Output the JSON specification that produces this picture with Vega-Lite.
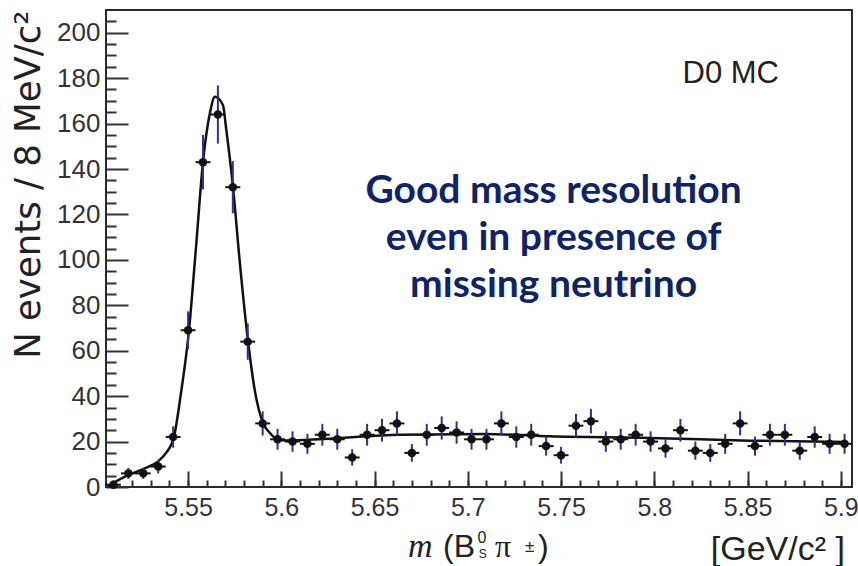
{
  "$schema": "https://vega.github.io/schema/vega-lite/v6.json",
  "width": 746,
  "height": 477,
  "autosize": {"type": "none"},
  "padding": {"left": 106, "top": 10, "right": 6, "bottom": 79},
  "background": "white",
  "config": {
    "view": {"stroke": "#2a2a2a", "strokeWidth": 2},
    "axis": {"domain": false, "grid": false, "labelFont": "Liberation Sans", "labelColor": "#333333", "tickColor": "#333333", "tickWidth": 2, "titleFont": "Liberation Sans", "titleFontWeight": "normal", "titleColor": "#222222"}
  },
  "datasets": {
    "hist": [
      {"m": 5.510, "n": 1, "err": 1.0, "lo": 5.506, "hi": 5.514},
      {"m": 5.518, "n": 6, "err": 2.4, "lo": 5.514, "hi": 5.522},
      {"m": 5.526, "n": 6, "err": 2.4, "lo": 5.522, "hi": 5.530},
      {"m": 5.534, "n": 9, "err": 3.0, "lo": 5.530, "hi": 5.538},
      {"m": 5.542, "n": 22, "err": 4.7, "lo": 5.538, "hi": 5.546},
      {"m": 5.550, "n": 69, "err": 8.3, "lo": 5.546, "hi": 5.554},
      {"m": 5.558, "n": 143, "err": 12.0, "lo": 5.554, "hi": 5.562},
      {"m": 5.566, "n": 164, "err": 12.8, "lo": 5.562, "hi": 5.570},
      {"m": 5.574, "n": 132, "err": 11.5, "lo": 5.570, "hi": 5.578},
      {"m": 5.582, "n": 64, "err": 8.0, "lo": 5.578, "hi": 5.586},
      {"m": 5.590, "n": 28, "err": 5.3, "lo": 5.586, "hi": 5.594},
      {"m": 5.598, "n": 21, "err": 4.6, "lo": 5.594, "hi": 5.602},
      {"m": 5.606, "n": 20, "err": 4.5, "lo": 5.602, "hi": 5.610},
      {"m": 5.614, "n": 19, "err": 4.4, "lo": 5.610, "hi": 5.618},
      {"m": 5.622, "n": 23, "err": 4.8, "lo": 5.618, "hi": 5.626},
      {"m": 5.630, "n": 21, "err": 4.6, "lo": 5.626, "hi": 5.634},
      {"m": 5.638, "n": 13, "err": 3.6, "lo": 5.634, "hi": 5.642},
      {"m": 5.646, "n": 23, "err": 4.8, "lo": 5.642, "hi": 5.650},
      {"m": 5.654, "n": 25, "err": 5.0, "lo": 5.650, "hi": 5.658},
      {"m": 5.662, "n": 28, "err": 5.3, "lo": 5.658, "hi": 5.666},
      {"m": 5.670, "n": 15, "err": 3.9, "lo": 5.666, "hi": 5.674},
      {"m": 5.678, "n": 23, "err": 4.8, "lo": 5.674, "hi": 5.682},
      {"m": 5.686, "n": 26, "err": 5.1, "lo": 5.682, "hi": 5.690},
      {"m": 5.694, "n": 24, "err": 4.9, "lo": 5.690, "hi": 5.698},
      {"m": 5.702, "n": 21, "err": 4.6, "lo": 5.698, "hi": 5.706},
      {"m": 5.710, "n": 21, "err": 4.6, "lo": 5.706, "hi": 5.714},
      {"m": 5.718, "n": 28, "err": 5.3, "lo": 5.714, "hi": 5.722},
      {"m": 5.726, "n": 22, "err": 4.7, "lo": 5.722, "hi": 5.730},
      {"m": 5.734, "n": 23, "err": 4.8, "lo": 5.730, "hi": 5.738},
      {"m": 5.742, "n": 18, "err": 4.2, "lo": 5.738, "hi": 5.746},
      {"m": 5.750, "n": 14, "err": 3.7, "lo": 5.746, "hi": 5.754},
      {"m": 5.758, "n": 27, "err": 5.2, "lo": 5.754, "hi": 5.762},
      {"m": 5.766, "n": 29, "err": 5.4, "lo": 5.762, "hi": 5.770},
      {"m": 5.774, "n": 20, "err": 4.5, "lo": 5.770, "hi": 5.778},
      {"m": 5.782, "n": 21, "err": 4.6, "lo": 5.778, "hi": 5.786},
      {"m": 5.790, "n": 23, "err": 4.8, "lo": 5.786, "hi": 5.794},
      {"m": 5.798, "n": 20, "err": 4.5, "lo": 5.794, "hi": 5.802},
      {"m": 5.806, "n": 17, "err": 4.1, "lo": 5.802, "hi": 5.810},
      {"m": 5.814, "n": 25, "err": 5.0, "lo": 5.810, "hi": 5.818},
      {"m": 5.822, "n": 16, "err": 4.0, "lo": 5.818, "hi": 5.826},
      {"m": 5.830, "n": 15, "err": 3.9, "lo": 5.826, "hi": 5.834},
      {"m": 5.838, "n": 19, "err": 4.4, "lo": 5.834, "hi": 5.842},
      {"m": 5.846, "n": 28, "err": 5.3, "lo": 5.842, "hi": 5.850},
      {"m": 5.854, "n": 18, "err": 4.2, "lo": 5.850, "hi": 5.858},
      {"m": 5.862, "n": 23, "err": 4.8, "lo": 5.858, "hi": 5.866},
      {"m": 5.870, "n": 23, "err": 4.8, "lo": 5.866, "hi": 5.874},
      {"m": 5.878, "n": 16, "err": 4.0, "lo": 5.874, "hi": 5.882},
      {"m": 5.886, "n": 22, "err": 4.7, "lo": 5.882, "hi": 5.890},
      {"m": 5.894, "n": 19, "err": 4.4, "lo": 5.890, "hi": 5.898},
      {"m": 5.902, "n": 19, "err": 4.4, "lo": 5.898, "hi": 5.906}
    ],
    "fit": [
      {"m": 5.507, "n": 0.3},
      {"m": 5.5183, "n": 5.4},
      {"m": 5.5258, "n": 7.9},
      {"m": 5.5339, "n": 11.3},
      {"m": 5.5382, "n": 15.0},
      {"m": 5.5425, "n": 22.3},
      {"m": 5.5462, "n": 41.3},
      {"m": 5.5505, "n": 69.0},
      {"m": 5.5543, "n": 106.0},
      {"m": 5.5580, "n": 143.0},
      {"m": 5.5618, "n": 165.0},
      {"m": 5.5644, "n": 171.8},
      {"m": 5.5687, "n": 168.2},
      {"m": 5.5703, "n": 158.6},
      {"m": 5.5741, "n": 132.0},
      {"m": 5.5778, "n": 98.5},
      {"m": 5.5821, "n": 64.6},
      {"m": 5.5859, "n": 42.0},
      {"m": 5.5902, "n": 28.2},
      {"m": 5.5939, "n": 23.8},
      {"m": 5.5982, "n": 20.8},
      {"m": 5.6025, "n": 20.5},
      {"m": 5.6224, "n": 21.1},
      {"m": 5.6636, "n": 23.0},
      {"m": 5.7098, "n": 23.3},
      {"m": 5.7441, "n": 22.3},
      {"m": 5.7977, "n": 21.6},
      {"m": 5.8513, "n": 20.4},
      {"m": 5.9028, "n": 19.8}
    ],
    "one": [{}]
  },
  "layer": [
    {
      "data": {"name": "fit"},
      "mark": {"type": "line", "interpolate": "monotone", "color": "#111111", "strokeWidth": 2.5},
      "encoding": {
        "x": {"field": "m", "type": "quantitative", "scale": {"domain": [5.506, 5.906], "nice": false, "zero": false},
              "axis": {"orient": "bottom", "values": [5.51,5.52,5.53,5.54,5.55,5.56,5.57,5.58,5.59,5.6,5.61,5.62,5.63,5.64,5.65,5.66,5.67,5.68,5.69,5.7,5.71,5.72,5.73,5.74,5.75,5.76,5.77,5.78,5.79,5.8,5.81,5.82,5.83,5.84,5.85,5.86,5.87,5.88,5.89,5.9], "tickSize": -7, "labels": false, "title": null}},
        "y": {"field": "n", "type": "quantitative", "scale": {"domain": [0, 210], "nice": false, "zero": true},
              "axis": {"orient": "left", "values": [5,10,15,25,30,35,45,50,55,65,70,75,85,90,95,105,110,115,125,130,135,145,150,155,165,170,175,185,190,195,205], "tickSize": -10, "labels": false, "title": null}}
      }
    },
    {
      "data": {"name": "hist"},
      "mark": {"type": "errorbar", "color": "#2e3192", "thickness": 2},
      "encoding": {
        "x": {"field": "m", "type": "quantitative", "scale": {"domain": [5.506, 5.906], "nice": false, "zero": false},
              "axis": {"orient": "bottom", "values": [5.55,5.6,5.65,5.7,5.75,5.8,5.85,5.9], "format": ".2~f", "tickSize": -16, "labelFontSize": 25, "labelPadding": 24, "title": null}},
        "y": {"field": "n", "type": "quantitative", "scale": {"domain": [0, 210], "nice": false, "zero": true},
              "axis": {"orient": "left", "values": [0,20,40,60,80,100,120,140,160,180,200], "tickSize": -22, "labelFontSize": 26, "labelPadding": 28, "title": "N events / 8 MeV/c²", "titleFont": "DejaVu Sans", "titleFontSize": 35.5, "titleAnchor": "end", "titlePadding": 10}},
        "yError": {"field": "err"}
      }
    },
    {
      "data": {"name": "hist"},
      "mark": {"type": "rule", "color": "#111111", "strokeWidth": 2},
      "encoding": {
        "x": {"field": "lo", "type": "quantitative", "axis": null},
        "x2": {"field": "hi"},
        "y": {"field": "n", "type": "quantitative", "axis": null}
      }
    },
    {
      "data": {"name": "hist"},
      "mark": {"type": "point", "filled": true, "opacity": 1, "color": "#111111", "size": 72},
      "encoding": {
        "x": {"field": "m", "type": "quantitative", "axis": null},
        "y": {"field": "n", "type": "quantitative", "axis": null}
      }
    },
    {
      "data": {"name": "one"},
      "mark": {"type": "text", "text": "D0 MC", "font": "Liberation Sans", "fontSize": 31, "color": "#222222", "align": "center", "baseline": "middle"},
      "encoding": {"x": {"datum": 5.841, "type": "quantitative", "axis": null}, "y": {"datum": 182.0, "type": "quantitative", "axis": null}}
    },
    {
      "data": {"name": "one"},
      "mark": {"type": "text", "text": ["Good mass resolution", "even in presence of", "missing neutrino"], "font": "Lato", "fontWeight": "bold", "fontSize": 39, "lineHeight": 47, "color": "#0f2466", "align": "center", "baseline": "middle"},
      "encoding": {"x": {"datum": 5.746, "type": "quantitative", "axis": null}, "y": {"datum": 130.2, "type": "quantitative", "axis": null}}
    },
    {
      "data": {"name": "one"},
      "mark": {"type": "text", "text": "m", "font": "Liberation Serif", "fontStyle": "italic", "fontSize": 34, "color": "#222222", "align": "left", "baseline": "alphabetic"},
      "encoding": {"x": {"datum": 5.6679, "type": "quantitative", "axis": null}, "y": {"datum": -30.8, "type": "quantitative", "axis": null}}
    },
    {
      "data": {"name": "one"},
      "mark": {"type": "text", "text": "(B", "font": "Liberation Sans", "fontSize": 32, "color": "#222222", "align": "left", "baseline": "alphabetic"},
      "encoding": {"x": {"datum": 5.6867, "type": "quantitative", "axis": null}, "y": {"datum": -30.8, "type": "quantitative", "axis": null}}
    },
    {
      "data": {"name": "one"},
      "mark": {"type": "text", "text": "0", "font": "Liberation Sans", "fontSize": 16, "color": "#222222", "align": "left", "baseline": "alphabetic"},
      "encoding": {"x": {"datum": 5.7052, "type": "quantitative", "axis": null}, "y": {"datum": -24.7, "type": "quantitative", "axis": null}}
    },
    {
      "data": {"name": "one"},
      "mark": {"type": "text", "text": "S", "font": "Liberation Sans", "fontSize": 12, "color": "#222222", "align": "left", "baseline": "alphabetic"},
      "encoding": {"x": {"datum": 5.7058, "type": "quantitative", "axis": null}, "y": {"datum": -31.3, "type": "quantitative", "axis": null}}
    },
    {
      "data": {"name": "one"},
      "mark": {"type": "text", "text": "π", "font": "Liberation Serif", "fontSize": 32, "color": "#222222", "align": "left", "baseline": "alphabetic"},
      "encoding": {"x": {"datum": 5.7146, "type": "quantitative", "axis": null}, "y": {"datum": -30.8, "type": "quantitative", "axis": null}}
    },
    {
      "data": {"name": "one"},
      "mark": {"type": "text", "text": "±", "font": "Liberation Sans", "fontSize": 17, "color": "#222222", "align": "left", "baseline": "alphabetic"},
      "encoding": {"x": {"datum": 5.7307, "type": "quantitative", "axis": null}, "y": {"datum": -28.6, "type": "quantitative", "axis": null}}
    },
    {
      "data": {"name": "one"},
      "mark": {"type": "text", "text": ")", "font": "Liberation Sans", "fontSize": 32, "color": "#222222", "align": "left", "baseline": "alphabetic"},
      "encoding": {"x": {"datum": 5.7376, "type": "quantitative", "axis": null}, "y": {"datum": -30.8, "type": "quantitative", "axis": null}}
    },
    {
      "data": {"name": "one"},
      "mark": {"type": "text", "text": "[GeV/c² ]", "font": "Liberation Sans", "fontSize": 34, "color": "#222222", "align": "right", "baseline": "alphabetic"},
      "encoding": {"x": {"datum": 5.9022, "type": "quantitative", "axis": null}, "y": {"datum": -32.1, "type": "quantitative", "axis": null}}
    }
  ],
  "resolve": {"axis": {"x": "independent", "y": "independent"}}
}
